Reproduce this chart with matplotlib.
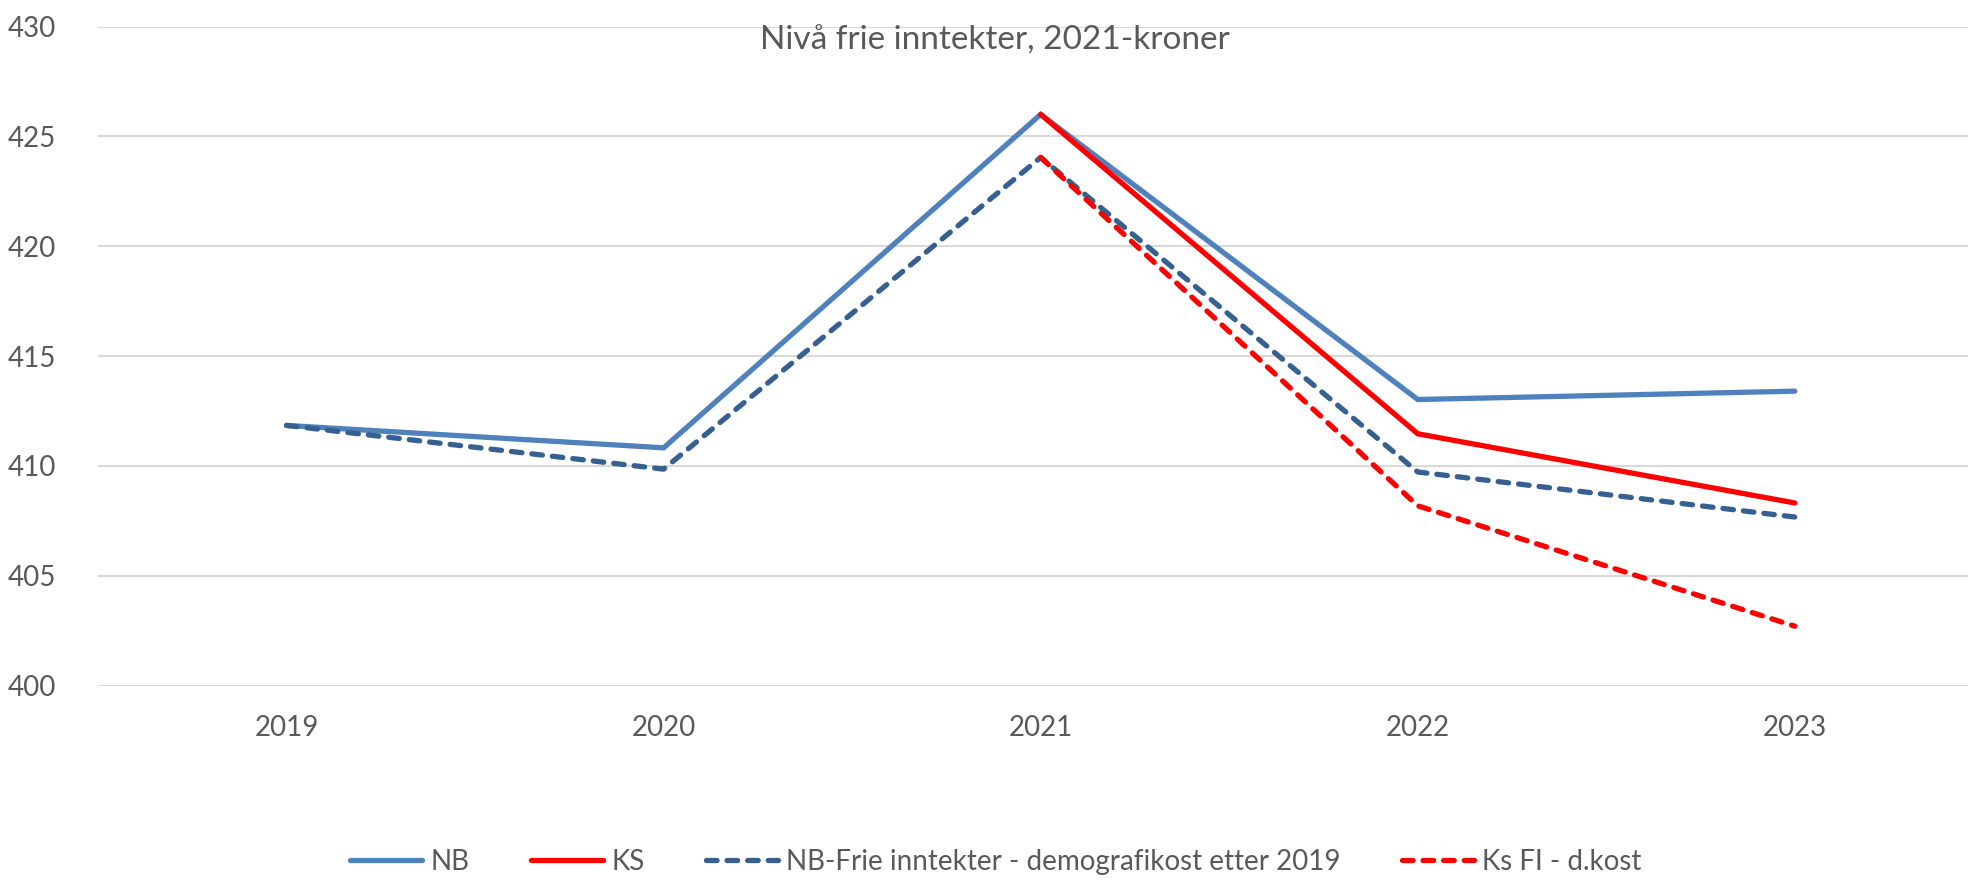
import matplotlib.pyplot as plt
import numpy as np

# Values (NOK, 2021-kroner)
years = ['2019', '2020', '2021', '2022', '2023']
nb = [411.84, 410.82, 426.0, 413.02, 413.4]
ks = [np.nan, np.nan, 426.0, 411.46, 408.31]
nb_demo = [411.84, 409.85, 424.04, 409.72, 407.67]
ks_fi_dkost = [np.nan, np.nan, 424.04, 408.18, 402.7]

plt.rcParams['font.family'] = ['Lato', 'DejaVu Sans']

fig = plt.figure(figsize=(19.68, 8.81), dpi=100)
ax = fig.add_axes([0.0498, 0.2219, 0.958, 0.748])

x = np.arange(len(years))
lw = 3.8
ax.plot(x, nb, color='#4F81BD', lw=lw, solid_capstyle='round', solid_joinstyle='miter', label='NB')
ax.plot(x, ks, color='#FF0000', lw=lw, solid_capstyle='round', solid_joinstyle='miter', label='KS')
ax.plot(x, nb_demo, color='#376092', lw=lw, dashes=(2.0, 1.9), dash_capstyle='round',
        label='NB-Frie inntekter - demografikost etter 2019')
ax.plot(x, ks_fi_dkost, color='#FF0000', lw=lw, dashes=(2.0, 1.9), dash_capstyle='round',
        label='Ks FI - d.kost')

ax.set_xlim(-0.5, 4.5)
ax.set_ylim(400, 430)
ax.set_yticks(range(400, 431, 5))
ax.set_xticks(x)
ax.set_xticklabels(years)
ax.grid(axis='y', color='#D9D9D9', lw=1.5)
ax.set_axisbelow(True)
for s in ax.spines.values():
    s.set_visible(False)
ax.tick_params(axis='both', length=0, labelsize=20, labelcolor='#595959')
ax.tick_params(axis='x', pad=21)
ax.tick_params(axis='y', pad=30)

fig.text(995 / 1968, 1 - 41 / 881, 'Nivå frie inntekter, 2021-kroner',
         ha='center', va='center', fontsize=24, color='#595959')

leg = fig.legend(loc='center', bbox_to_anchor=(0.506, 1 - 862 / 881), ncol=4, frameon=False,
                 fontsize=20, handlelength=2.6, columnspacing=2.2, handletextpad=0.3)
for t in leg.get_texts():
    t.set_color('#595959')

plt.savefig('out.png', dpi=100)
